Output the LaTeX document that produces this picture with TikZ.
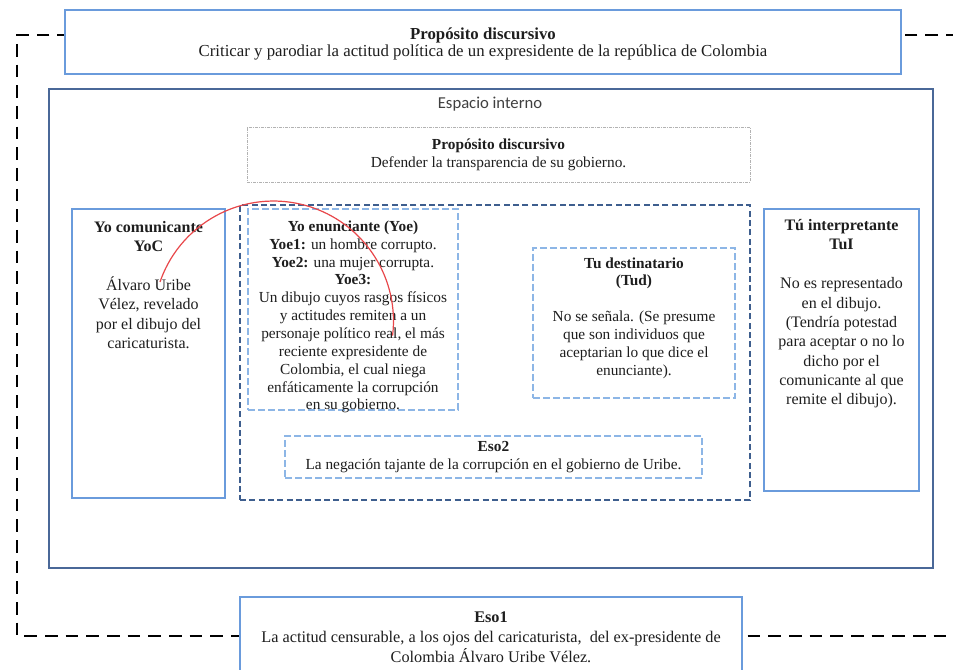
\documentclass[tikz,border=0pt]{standalone}
\usepackage{fontspec}
\setmainfont{Liberation Serif}
\newfontfamily\labelfont{Carlito}
\definecolor{lblue}{HTML}{6A9BDC}
\definecolor{dblue}{HTML}{4A6898}
\definecolor{dashblue}{HTML}{8DB6E6}
\definecolor{darkdash}{HTML}{3E5E8E}
\definecolor{txt}{HTML}{1E1E1E}
\definecolor{arcred}{HTML}{E8474A}
\begin{document}
\begin{tikzpicture}[x=0.75pt,y=-0.75pt,
  box/.style={fill=white, inner sep=0pt, minimum width=#1},
  solidbox/.style={draw=lblue, line width=1.6pt},
  spacebox/.style={draw=dblue, line width=1.6pt},
  lightdash/.style={draw=dashblue, line width=1.5pt, dash pattern=on 5pt off 2.5pt},
  darkdashbox/.style={draw=darkdash, line width=1.6pt, dash pattern=on 4.5pt off 2.5pt},
  dotbox/.style={draw=black!30, line width=0.5pt, dash pattern=on 2pt off 1pt on 0.5pt off 1pt},
  frame/.style={draw=black, line width=2pt, dash pattern=on 9.5pt off 6pt},
  bigtext/.style={text=txt, align=center, inner sep=0pt, font=\fontsize{12}{14.5}\selectfont},
  midtext/.style={text=txt, align=center, inner sep=0pt, font=\fontsize{11.5}{13.4}\selectfont},
  toptext/.style={text=txt, align=center, inner sep=0pt, font=\fontsize{12.6}{13}\selectfont},
  esotext/.style={text=txt, align=center, inner sep=0pt, font=\fontsize{12.2}{15}\selectfont},
  arcline/.style={draw=arcred, line width=0.9pt}
]
\useasboundingbox (0,0) rectangle (953,670);
\clip (0,0) rectangle (953,670);

% outer dashed frame
\coordinate (fTR) at (1000,35);
\coordinate (fTL) at (17,35);
\coordinate (fBL) at (17,636);
\coordinate (fBR) at (1000,636);
\draw[frame] (fTR) -- (fTL) -- (fBL) -- (fBR);

% top box
\node[box, solidbox, minimum width=627pt, minimum height=48pt] (top) at (483,42) {};
\node[toptext] (toptxt) at (483,44) {\textbf{Propósito discursivo}\\Criticar y parodiar la actitud política de un expresidente de la república de Colombia};

% espacio interno
\node[box, spacebox, minimum width=663pt, minimum height=359.25pt] (esp) at (491,328.5) {};
\node[text=black!75, inner sep=0pt, font=\labelfont\fontsize{12.5}{14}\selectfont] (esplbl) at (490,104) {Espacio interno};

% inner proposito
\node[box, dotbox, minimum width=377.25pt, minimum height=41.25pt] (inprop) at (498.5,154.5) {};
\node[midtext] (inproptxt) at (498.5,155) {\textbf{Propósito discursivo}\\Defender la transparencia de su gobierno.};

% Yo comunicante
\node[box, solidbox, minimum width=114.75pt, minimum height=216.75pt] (yoc) at (148.5,353.5) {};
\node[bigtext] (yoctxt) at (148.5,285) {\textbf{Yo comunicante}\\\textbf{YoC}\\[14.5pt]Álvaro Uribe\\Vélez, revelado\\por el dibujo del\\caricaturista.};

% dark dashed container
\node[box, darkdashbox, minimum width=382.5pt, minimum height=221.25pt] (dark) at (495,352.5) {};

% Yo enunciante
\node[box, lightdash, minimum width=157.5pt, minimum height=150.75pt] (yoe) at (353,309.5) {};
\node[midtext] (yoetxt) at (353,317) {\textbf{Yo enunciante (Yoe)}\\\textbf{Yoe1:} un hombre corrupto.\\\textbf{Yoe2:} una mujer corrupta.\\\textbf{Yoe3:}\\Un dibujo cuyos rasgos físicos\\y actitudes remiten a un\\personaje político real, el más\\reciente expresidente de\\Colombia, el cual niega\\enfáticamente la corrupción\\en su gobierno.};

% Tu destinatario
\node[box, lightdash, minimum width=151.5pt, minimum height=112.5pt] (tud) at (634,323) {};
\node[midtext] (tudtxt) at (634,318) {\textbf{Tu destinatario}\\\textbf{(Tud)}\\[13.4pt]No se señala. (Se presume\\que son individuos que\\aceptarian lo que dice el\\enunciante).};

% Eso2
\node[box, lightdash, minimum width=312.75pt, minimum height=31.5pt] (eso2) at (493.5,457) {};
\node[midtext] (eso2txt) at (493.5,457) {\textbf{Eso2}\\La negación tajante de la corrupción en el gobierno de Uribe.};

% Tu interpretante
\node[box, solidbox, minimum width=116.25pt, minimum height=211.5pt] (tui) at (841.5,350) {};
\node[bigtext] (tuitxt) at (841.5,313.5) {\textbf{Tú interpretante}\\\textbf{TuI}\\[15pt]No es representado\\en el dibujo.\\(Tendría potestad\\para aceptar o no lo\\dicho por el\\comunicante al que\\remite el dibujo).};

% Eso1
\node[box, solidbox, minimum width=376.5pt, minimum height=69.75pt] (eso1) at (491,643.5) {};
\node[esotext] (eso1txt) at (491,637) {\textbf{Eso1}\\La actitud censurable, a los ojos del caricaturista,\ \ del ex-presidente de\\Colombia Álvaro Uribe Vélez.};

% red arc from YoC to Yoe
\coordinate (arcS) at (160,282);
\draw[arcline] (arcS) arc[start angle=-161, end angle=7, radius=120];
\end{tikzpicture}
\end{document}
